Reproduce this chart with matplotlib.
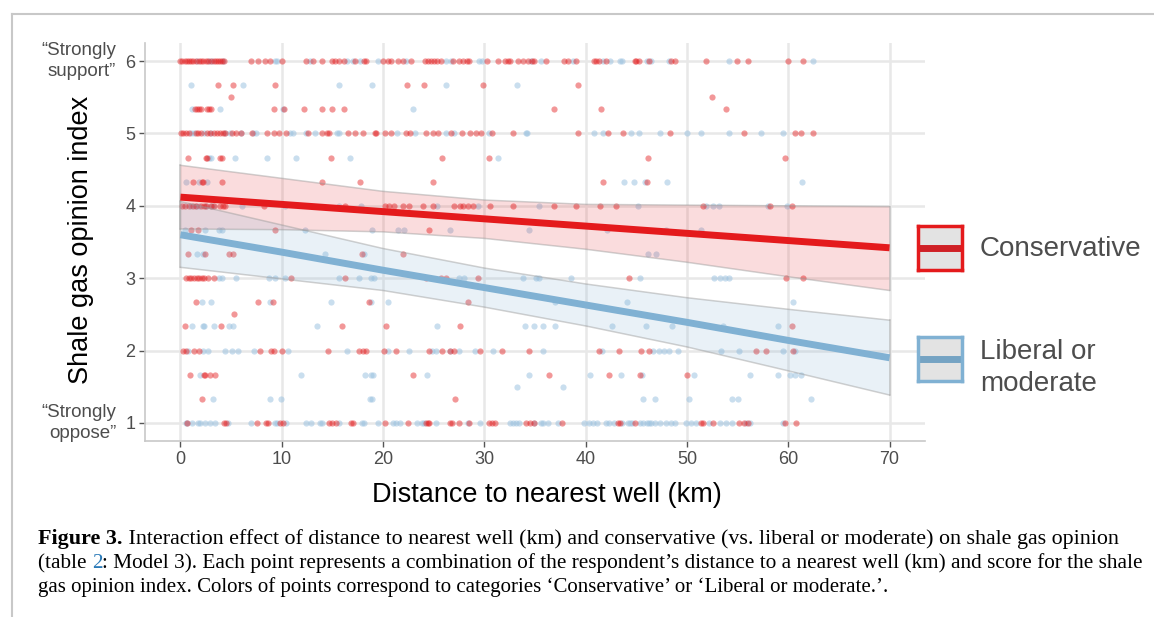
import numpy as np
import matplotlib.pyplot as plt
from matplotlib.lines import Line2D
from matplotlib.transforms import blended_transform_factory

# opinion index levels (rows of points)
scores = [6, 17/3, 5.5, 16/3, 5, 14/3, 13/3, 4, 11/3, 10/3, 3, 8/3, 2.5, 7/3, 2, 5/3, 1.5, 4/3, 1]

# distance to nearest well (km), conservative respondents, one list per level
cons_600 = [0.0, 0.2, 0.4, 0.6, 0.8, 1.0, 1.2, 1.5, 1.8, 2.0, 2.2, 2.5, 2.7, 3.0, 3.3, 3.5, 3.7, 3.9, 4.1, 4.3,
            7.0, 7.7, 8.3, 8.8, 10.0, 12.4, 13.1, 14.0, 15.0, 15.3, 15.7, 16.1, 17.2, 18.1, 18.3, 20.0, 20.5,
            20.8, 21.5, 22.0, 22.8, 24.1, 24.4, 24.7, 25.0, 25.3, 25.7, 26.9, 27.5, 27.9, 28.3, 28.5, 30.3,
            31.3, 32.0, 32.3, 32.5, 33.3, 33.8, 34.3, 34.7, 34.9, 36.1, 37.9, 38.3, 39.0, 40.8, 41.0, 41.3,
            42.0, 44.9, 45.0, 45.3, 46.3, 48.4, 48.8, 51.9, 54.9, 56.0, 60.0, 61.5]
cons_567 = [3.7, 5.2, 9.3, 22.4, 24.0, 29.9, 39.2]
cons_550 = [5.0, 52.5]
cons_533 = [1.4, 1.6, 1.8, 2.0, 2.6, 2.8, 3.0, 9.2, 10.2, 12.2, 14.0, 15.0, 16.1, 36.9, 41.5, 53.9]
cons_500 = [0.1, 0.3, 0.5, 0.8, 1.5, 1.7, 2.0, 2.6, 2.9, 3.3, 3.6, 3.9, 4.2, 4.4, 5.1, 5.5, 6.0, 7.1, 8.5,
            9.2, 9.7, 10.4, 12.6, 14.0, 14.5, 14.7, 16.5, 17.2, 18.0, 19.2, 19.3, 20.2, 20.8, 22.3, 22.7,
            24.2, 24.9, 25.4, 26.7, 27.8, 28.6, 29.2, 29.7, 30.8, 32.8, 39.2, 42.2, 43.7, 48.3, 55.6, 60.7,
            61.3, 62.4]
cons_467 = [0.7, 2.5, 2.6, 3.9, 4.1, 14.9, 25.8, 30.5, 46.2, 59.7]
cons_433 = [1.2, 2.1, 2.2, 4.1, 14.0, 17.7, 24.9, 41.7, 46.1]
cons_400 = [0.2, 0.4, 0.8, 1.2, 1.5, 2.0, 2.3, 2.5, 3.0, 3.3, 3.9, 4.2, 4.4, 8.2, 16.2, 20.2, 20.6, 21.1,
            22.0, 22.6, 23.9, 24.9, 27.0, 27.6, 27.9, 28.4, 28.9, 30.6, 32.8, 36.9, 39.0, 41.4, 43.0, 51.6,
            58.2, 60.4]
cons_367 = [1.0, 1.7, 9.3, 24.5]
cons_333 = [0.75, 2.4, 4.8, 5.2, 17.9, 22.0]
cons_300 = [0.5, 0.8, 1.0, 1.3, 1.6, 1.8, 2.1, 2.3, 2.7, 3.3, 10.9, 16.2, 24.2, 25.7, 26.2, 29.4, 44.3,
            59.8, 61.5]
cons_267 = [1.5, 7.7, 9.1, 18.6, 28.4]
cons_250 = [5.3]
cons_233 = [0.4, 4.0, 15.9, 20.3, 27.6, 60.4]
cons_200 = [0.3, 0.5, 1.3, 1.8, 7.9, 8.9, 9.2, 10.0, 14.6, 17.6, 18.0, 18.3, 20.1, 21.3, 24.5, 25.8, 26.6,
            27.0, 29.6, 31.7, 34.4, 41.3, 43.3, 45.5, 46.3, 56.8, 57.8, 60.5]
cons_167 = [0.9, 2.3, 2.4, 2.9, 3.4, 23.0, 36.4, 42.3, 45.4, 50.0]
cons_150 = []
cons_133 = [2.1, 27.1]
cons_100 = [0.6, 4.3, 4.5, 7.6, 8.4, 8.6, 9.8, 10.1, 14.7, 15.0, 15.4, 16.8, 17.0, 20.2, 22.5, 24.2, 24.4,
            24.5, 26.6, 26.8, 27.5, 28.5, 30.5, 30.8, 31.1, 34.1, 34.5, 34.9, 37.7, 43.2, 43.4, 44.9, 51.4,
            51.6, 52.6, 55.1, 55.6, 56.0, 59.7, 60.8]

# liberal or moderate respondents
lib_600 = [1.6, 2.8, 3.1, 4.2, 9.3, 9.5, 12.8, 16.4, 17.0, 17.7, 19.5, 22.3, 26.2, 26.7, 29.5, 29.8, 34.6,
           35.6, 38.8, 41.7, 42.4, 43.4, 43.6, 46.1, 46.5, 48.2, 54.2, 62.4]
lib_567 = [1.0, 6.2, 15.7, 18.9, 26.2, 33.2]
lib_550 = []
lib_533 = [1.15, 3.9, 10.1, 23.0]
lib_500 = [1.0, 1.3, 2.3, 3.0, 4.4, 4.9, 6.0, 7.2, 7.5, 10.8, 11.1, 12.4, 13.3, 15.5, 15.7, 21.4, 23.2,
           26.2, 27.0, 30.5, 34.1, 34.2, 40.8, 41.7, 44.5, 45.3, 47.3, 50.0, 51.4, 54.2, 57.3, 59.5]
lib_467 = [2.8, 3.0, 5.4, 8.5, 11.4, 16.7, 31.3]
lib_433 = [0.55, 1.8, 2.6, 43.8, 44.8, 45.9, 48.0, 61.4]
lib_400 = [1.0, 1.5, 1.8, 2.5, 3.0, 3.2, 6.1, 10.3, 15.7, 17.8, 25.3, 29.4, 35.4, 45.2, 51.9, 52.6, 53.2,
           58.0, 59.9]
lib_367 = [0.4, 2.4, 3.8, 4.1, 12.3, 18.9, 21.5, 22.1, 26.6, 34.4, 42.1, 47.9, 51.4]
lib_333 = [1.6, 2.2, 14.3, 18.1, 46.2, 46.9]
lib_300 = [3.8, 4.1, 5.5, 8.7, 9.3, 10.3, 15.7, 17.6, 18.8, 19.1, 27.5, 28.0, 33.8, 35.1, 35.4, 38.6, 45.4,
           52.7, 53.3, 53.8, 54.2]
lib_267 = [2.1, 3.0, 8.8, 14.9, 18.8, 20.5, 37.0, 44.1, 60.5]
lib_250 = []
lib_233 = [1.1, 2.2, 2.3, 3.3, 4.8, 5.2, 13.5, 25.3, 34.0, 34.9, 35.8, 37.0, 42.6, 46.0, 48.5, 53.6, 59.0]
lib_200 = [0.7, 2.2, 2.7, 4.4, 5.1, 5.7, 7.3, 10.6, 16.4, 20.5, 22.6, 24.8, 25.2, 26.6, 27.5, 29.1, 30.9,
           35.8, 41.6, 46.6, 47.2, 47.7, 48.2, 49.1, 53.4, 55.1, 59.5, 60.7]
lib_167 = [1.9, 11.9, 18.2, 18.8, 19.0, 24.3, 34.4, 40.4, 43.5, 45.6, 50.7, 56.2, 59.0, 60.2, 60.7, 61.3]
lib_150 = [33.2, 37.8]
lib_133 = [3.2, 8.8, 9.9, 18.7, 18.9, 45.7, 46.8, 50.2, 54.4, 55.0, 62.2]
lib_100 = [0.5, 0.65, 1.15, 1.7, 1.9, 2.4, 2.9, 3.4, 4.7, 7.0, 9.3, 9.5, 10.4, 12.4, 12.9, 13.8, 14.0, 15.7,
           17.9, 18.1, 19.5, 21.0, 21.3, 21.7, 23.4, 23.8, 24.0, 25.2, 28.4, 29.6, 32.5, 32.8, 33.1, 33.4,
           34.9, 35.6, 35.8, 36.3, 37.3, 39.8, 40.3, 40.7, 41.1, 42.0, 42.3, 42.8, 43.6, 44.2, 44.4, 44.6,
           45.4, 45.7, 46.1, 46.3, 46.5, 46.8, 47.3, 47.9, 48.4, 48.8, 49.9, 50.4, 50.9, 52.2, 53.3, 53.9,
           54.4, 55.8, 56.2, 59.5]

cons_rows = [cons_600, cons_567, cons_550, cons_533, cons_500, cons_467, cons_433, cons_400, cons_367,
             cons_333, cons_300, cons_267, cons_250, cons_233, cons_200, cons_167, cons_150, cons_133, cons_100]
lib_rows = [lib_600, lib_567, lib_550, lib_533, lib_500, lib_467, lib_433, lib_400, lib_367,
            lib_333, lib_300, lib_267, lib_250, lib_233, lib_200, lib_167, lib_150, lib_133, lib_100]

# fitted lines with confidence bands, read at 10 km steps
fit_x = [0, 10, 20, 30, 40, 50, 60, 70]
cons_fit = [4.12, 4.02, 3.92, 3.82, 3.72, 3.62, 3.52, 3.42]
cons_hi = [4.56, 4.38, 4.20, 4.08, 4.02, 4.01, 4.00, 3.99]
cons_lo = [3.68, 3.67, 3.64, 3.55, 3.40, 3.22, 3.02, 2.83]
lib_fit = [3.60, 3.36, 3.11, 2.87, 2.63, 2.39, 2.14, 1.90]
lib_hi = [4.06, 3.735, 3.41, 3.14, 2.92, 2.73, 2.57, 2.42]
lib_lo = [3.15, 2.99, 2.83, 2.60, 2.34, 2.05, 1.72, 1.385]

red = '#E41A1C'
blue = '#80B1D3'
txt_grey = '#4D4D4D'


def flatten(rows):
    xs, ys = [], []
    for s, row in zip(scores, rows):
        xs += row
        ys += [s] * len(row)
    return np.array(xs), np.array(ys)


cons_x, cons_y = flatten(cons_rows)
lib_x, lib_y = flatten(lib_rows)

fig = plt.figure(figsize=(11.54, 6.17), dpi=100)
ax = fig.add_axes([145 / 1154, 1 - 441 / 617, 780 / 1154, 398 / 617])

ax.scatter(lib_x, lib_y, s=20, color='#9DC3E0', alpha=0.55, linewidths=0, zorder=2)
ax.scatter(cons_x, cons_y, s=20, color=red, alpha=0.45, linewidths=0, zorder=2)

ax.fill_between(fit_x, cons_lo, cons_hi, facecolor=red, alpha=0.15, edgecolor='none', zorder=3)
ax.fill_between(fit_x, lib_lo, lib_hi, facecolor=blue, alpha=0.17, edgecolor='none', zorder=3)
for lo, hi in [(cons_lo, cons_hi), (lib_lo, lib_hi)]:
    ax.plot(fit_x, lo, color='#999999', alpha=0.45, lw=1.1, zorder=3)
    ax.plot(fit_x, hi, color='#999999', alpha=0.45, lw=1.1, zorder=3)
    ax.plot([fit_x[0], fit_x[0]], [lo[0], hi[0]], color='#999999', alpha=0.45, lw=1.1, zorder=3)
    ax.plot([fit_x[-1], fit_x[-1]], [lo[-1], hi[-1]], color='#999999', alpha=0.45, lw=1.1, zorder=3)

ax.plot(fit_x, cons_fit, color=red, lw=5, solid_capstyle='butt', zorder=4)
ax.plot(fit_x, lib_fit, color=blue, lw=5, solid_capstyle='butt', zorder=4)

ax.set_xlim(-3.5, 73.5)
ax.set_ylim(0.75, 6.25)
ax.set_xticks(range(0, 71, 10))
ax.set_yticks([1, 2, 3, 4, 5, 6])
ax.grid(True, color='#E8E8E8', lw=1.8, zorder=0)
ax.set_axisbelow(True)
for side in ['top', 'right']:
    ax.spines[side].set_visible(False)
for side in ['left', 'bottom']:
    ax.spines[side].set_color('#C8C8C8')
    ax.spines[side].set_linewidth(1.2)
ax.tick_params(colors='#555555', labelcolor=txt_grey, labelsize=13, length=4, width=1, pad=3)
for lab in ax.get_xticklabels() + ax.get_yticklabels():
    lab.set_family('Liberation Sans')

trans = blended_transform_factory(ax.transAxes, ax.transData)
ax.text(-0.037, 6, '\u201cStrongly\nsupport\u201d', transform=trans, ha='right', va='center',
        fontsize=13.5, color=txt_grey, family='Liberation Sans', linespacing=1.35)
ax.text(-0.037, 1, '\u201cStrongly\noppose\u201d', transform=trans, ha='right', va='center',
        fontsize=13.5, color=txt_grey, family='Liberation Sans', linespacing=1.35)

fig.text(81 / 1154, 1 - 240 / 617, 'Shale gas opinion index', rotation=90, ha='center', va='center',
         fontsize=19.5, family='Liberation Sans', color='black')
fig.text(547 / 1154, 1 - 502 / 617, 'Distance to nearest well (km)', ha='center', va='baseline',
         fontsize=19.5, family='Liberation Sans', color='black')

# legend keys drawn as small boxes
legend_items = [('Conservative', red, '#CF2026', 226, 249),
                ('Liberal or\nmoderate', blue, '#75A3C3', 337, 368)]
for label, edge, key_line, top, ty in legend_items:
    kax = fig.add_axes([918 / 1154, 1 - (top + 44) / 617, 44 / 1154, 44 / 617])
    kax.set_facecolor('#E3E3E3')
    kax.set_xticks([])
    kax.set_yticks([])
    for sp in kax.spines.values():
        sp.set_color(edge)
        sp.set_linewidth(2.5)
    kax.add_line(Line2D([0.08, 0.92], [0.5, 0.5], color=key_line, lw=5, transform=kax.transAxes))
    fig.text(980 / 1154, 1 - ty / 617, label, ha='left', va='center', fontsize=20,
             family='Liberation Sans', color=txt_grey, linespacing=1.3)

# page frame lines
fig.add_artist(Line2D([12 / 1154, 12 / 1154], [0, 1 - 14 / 617], color='#C8C8C8', lw=1.5))
fig.add_artist(Line2D([12 / 1154, 1], [1 - 14 / 617, 1 - 14 / 617], color='#C8C8C8', lw=1.5))

# caption, pieced together to allow bold and coloured runs; each line fitted to its width
renderer = fig.canvas.get_renderer()
cap_size = 15.8
cap_font = 'Liberation Serif'


def run_text(x_px, y_px, parts, right_px):
    texts = []
    for txt, weight, color in parts:
        texts.append(fig.text(0, 0, txt, ha='left', va='baseline', fontsize=cap_size,
                              family=cap_font, weight=weight, color=color))
    total = sum(t.get_window_extent(renderer).width for t in texts)
    size = min(cap_size, cap_size * (right_px - x_px) / total)
    for t in texts:
        t.set_fontsize(size)
        t.set_position((x_px / 1154, 1 - y_px / 617))
        x_px += t.get_window_extent(renderer).width


run_text(38, 544, [('Figure 3.', 'bold', 'black'),
                   (' Interaction effect of distance to nearest well (km) and conservative (vs. liberal or '
                    'moderate) on shale gas opinion', 'normal', 'black')], 1123)
run_text(38, 568, [('(table ', 'normal', 'black'), ('2', 'normal', '#2A7AB8'),
                   (': Model 3). Each point represents a combination of the respondent\u2019s distance to a '
                    'nearest well (km) and score for the shale', 'normal', 'black')], 1141)
run_text(38, 592, [('gas opinion index. Colors of points correspond to categories \u2018Conservative\u2019 or '
                    '\u2018Liberal or moderate.\u2019.', 'normal', 'black')], 889)

fig.savefig('out.png', dpi=100)
